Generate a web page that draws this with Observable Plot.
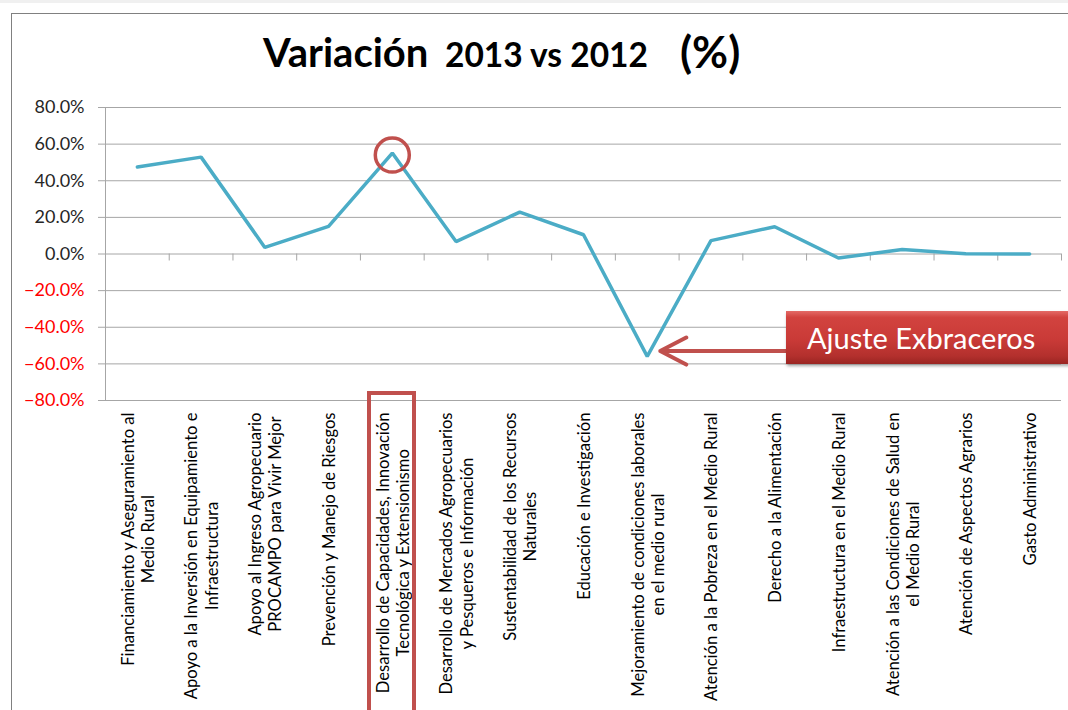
<!DOCTYPE html>
<html>
<head>
<meta charset="utf-8">
<script src="https://cdn.jsdelivr.net/npm/d3@7"></script>
<script src="https://cdn.jsdelivr.net/npm/@observablehq/plot@0.6"></script>
<style>
  html, body { margin: 0; padding: 0; background: #ffffff; }
  body { width: 1068px; height: 710px; overflow: hidden; position: relative; font-family: Lato, "Open Sans", sans-serif; }
  #strip { position: absolute; left: 0; top: 0; width: 1068px; height: 3px; background: #f0f0f0; }
  #frame { position: absolute; left: 11px; top: 13px; width: 1100px; height: 800px; border-left: 1.5px solid #808080; border-top: 1.5px solid #808080; }
  #title { position: absolute; left: 0; top: 0; }
  #chart { position: absolute; left: 0; top: 90px; }
  #labelbox { position: absolute; left: 367px; top: 391px; width: 41px; height: 340px; border: 4px solid #c0504d; }
  #callout { position: absolute; left: 786px; top: 311px; width: 290px; height: 53px;
    background: linear-gradient(to bottom, #e46a66 0%, #d2433f 12%, #c93a37 55%, #b3302d 85%, #9a2522 100%);
    box-shadow: 1px 2px 3px rgba(0,0,0,0.35); color: #fff; font-size: 29px; line-height: 53px; padding-left: 21px; box-sizing: border-box; white-space: nowrap; }
</style>
</head>
<body>
<div id="strip"></div>
<div id="frame"></div>
<svg id="title" width="1068" height="90" font-family="Lato, sans-serif" font-weight="700" fill="#000">
  <text x="263" y="67" font-size="40">Variación</text>
  <text x="445" y="67" font-size="33.5">2013 vs 2012</text>
  <text x="680" y="68" font-size="44">(%)</text>
</svg>
<div id="chart"></div>
<div id="labelbox"></div>
<div id="callout">Ajuste Exbraceros</div>
<script>
// ---- data ----
const categories = [
  "Financiamiento y Aseguramiento al Medio Rural",
  "Apoyo a la Inversión en Equipamiento e Infraestructura",
  "Apoyo al Ingreso Agropecuario PROCAMPO para Vivir Mejor",
  "Prevención y Manejo de Riesgos",
  "Desarrollo de Capacidades, Innovación Tecnológica y Extensionismo",
  "Desarrollo de Mercados Agropecuarios y Pesqueros e Información",
  "Sustentabilidad de los Recursos Naturales",
  "Educación e Investigación",
  "Mejoramiento de condiciones laborales en el medio rural",
  "Atención a la Pobreza en el Medio Rural",
  "Derecho a la Alimentación",
  "Infraestructura en el Medio Rural",
  "Atención a las Condiciones de Salud en el Medio Rural",
  "Atención de Aspectos Agrarios",
  "Gasto Administrativo"
];
const tickLabels = [
  "Financiamiento y Aseguramiento al\nMedio Rural",
  "Apoyo a la Inversión en Equipamiento e\nInfraestructura",
  "Apoyo al Ingreso Agropecuario\nPROCAMPO para Vivir Mejor",
  "Prevención y Manejo de Riesgos",
  "Desarrollo de Capacidades, Innovación\nTecnológica y Extensionismo",
  "Desarrollo de Mercados Agropecuarios\ny Pesqueros e Información",
  "Sustentabilidad de los Recursos\nNaturales",
  "Educación e Investigación",
  "Mejoramiento de condiciones laborales\nen el medio rural",
  "Atención a la Pobreza en el Medio Rural",
  "Derecho a la Alimentación",
  "Infraestructura en el Medio Rural",
  "Atención a las Condiciones de Salud en\nel Medio Rural",
  "Atención de Aspectos Agrarios",
  "Gasto Administrativo"
];
const values = [0.475, 0.529, 0.036, 0.151, 0.551, 0.068, 0.229, 0.105, -0.559, 0.073, 0.149, -0.022, 0.024, 0.001, 0.000];
const yTicks = [-0.8, -0.6, -0.4, -0.2, 0, 0.2, 0.4, 0.6, 0.8];
const highlightIndex = 4;
const arrowFromIndex = 10;
const arrowToIndex = 8;
const arrowLevel = -0.53;

// ---- layout ----
const W = 1068, H = 620, mL = 105, mR = 7, mT = 17, mB = 310;
const bw = (W - mL - mR) / categories.length;
const rows = categories.map((c, i) => ({category: c, value: values[i], label: tickLabels[i]}));
const gridColor = "#a6a6a6";
const fmt = d3.format(".1%");

const plot = Plot.plot({
  width: W, height: H,
  marginLeft: mL, marginRight: mR, marginTop: mT, marginBottom: mB,
  style: {fontFamily: "Lato, sans-serif", background: "transparent", overflow: "visible"},
  x: {type: "band", domain: categories, padding: 0, round: false, axis: null},
  y: {domain: [-0.8, 0.8], axis: null},
  marks: [
    Plot.gridY(yTicks, {stroke: gridColor, strokeOpacity: 1, strokeWidth: 1}),
    Plot.ruleX([categories[0]], {x: d => d, dx: -bw / 2, stroke: gridColor}),
    Plot.ruleX(categories.slice(1), {x: d => d, y1: 0, y2: 0, dx: -bw / 2, insetBottom: -7, stroke: gridColor}),
    Plot.ruleX([categories[categories.length - 1]], {x: d => d, y1: 0, y2: 0, dx: bw / 2, insetBottom: -7, stroke: gridColor}),
    Plot.axisY(yTicks.filter(v => v >= 0), {anchor: "left", tickSize: 7, tickPadding: 14, tickFormat: fmt, fontSize: 18, fill: "#262626", stroke: gridColor, label: null}),
    Plot.axisY(yTicks.filter(v => v < 0), {anchor: "left", tickSize: 7, tickPadding: 14, tickFormat: fmt, fontSize: 18, fill: "#ff0000", stroke: gridColor, label: null}),
    Plot.line(rows, {x: "category", y: "value", stroke: "#4bacc6", strokeWidth: 3.5, strokeLinejoin: "miter"}),
    Plot.dot([rows[highlightIndex]], {x: "category", y: "value", r: 17, dy: 2, fill: "none", stroke: "#c0504d", strokeWidth: 3.5}),
    Plot.arrow([{from: categories[arrowFromIndex], to: categories[arrowToIndex], level: arrowLevel}], {
      x1: "from", y1: "level", x2: "to", y2: "level",
      stroke: "#c0504d", strokeWidth: 4, headLength: 11, headAngle: 55, insetStart: -14, insetEnd: 13
    }),
    Plot.text(rows, {x: "category", text: "label", frameAnchor: "bottom", rotate: -90, textAnchor: "end", lineAnchor: "middle",
      dy: 12, fontSize: 16.6, lineHeight: 1.22, fill: "#000"})
  ]
});
document.getElementById("chart").append(plot);

// centre the lines of each two-line category label within its block
for (const t of plot.querySelectorAll("text")) {
  const tr = t.getAttribute("transform") || "";
  if (!tr.includes("rotate(-90)")) continue;
  const spans = t.querySelectorAll("tspan");
  if (spans.length < 2) continue;
  const lens = Array.from(spans, s => s.getComputedTextLength());
  const maxL = Math.max(...lens);
  t.setAttribute("text-anchor", "middle");
  spans.forEach(s => s.setAttribute("x", -maxL / 2));
}
</script>
</body>
</html>
